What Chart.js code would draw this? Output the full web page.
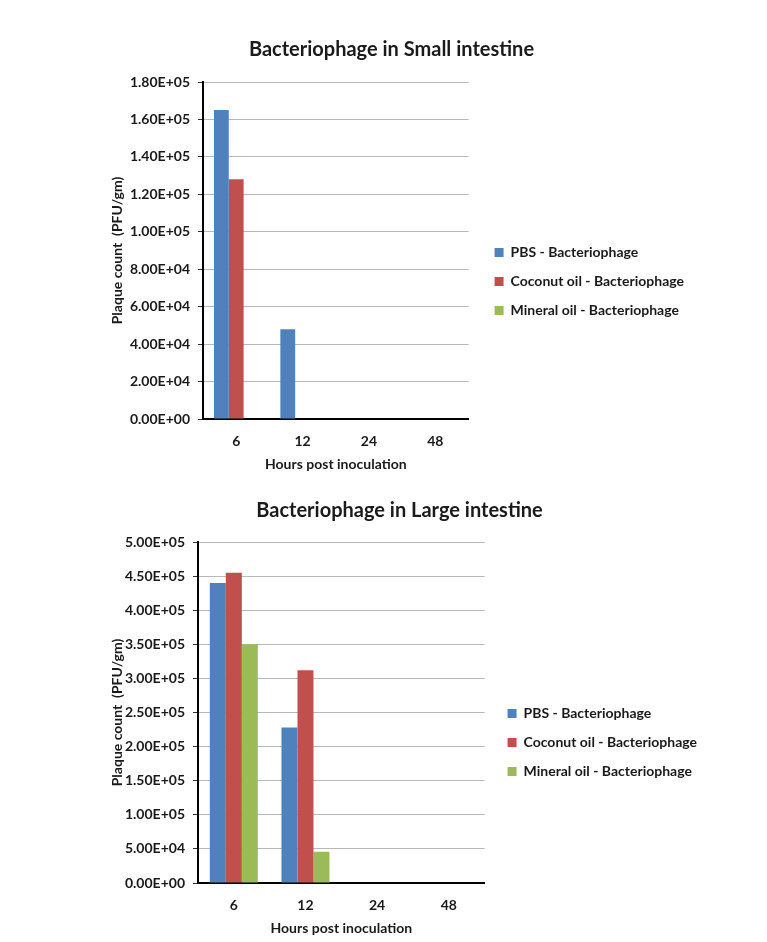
<!DOCTYPE html>
<html>
<head>
<meta charset="utf-8">
<script src="https://cdn.jsdelivr.net/npm/chart.js@4.4.1/dist/chart.umd.min.js"></script>
<style>
  html, body { margin: 0; padding: 0; background: #fff; }
  body { width: 767px; height: 942px; position: relative; overflow: hidden; }
  .box { position: absolute; left: 100px; width: 600px; }
  #smallBox { top: 28px; height: 451px; }
  #largeBox { top: 490px; height: 453px; }
</style>
</head>
<body>
<div class="box" id="smallBox"><canvas id="smallChart"></canvas></div>
<div class="box" id="largeBox"><canvas id="largeChart"></canvas></div>
<script>
// hours post inoculation
const hours = ['6', '12', '24', '48'];
const seriesNames = ['PBS - Bacteriophage', 'Coconut oil - Bacteriophage', 'Mineral oil - Bacteriophage'];

// small intestine, PFU/gm
const smallPbs = [165000, 48000, 0, 0];
const smallCoconut = [128000, 0, 0, 0];
const smallMineral = [0, 0, 0, 0];

// large intestine, PFU/gm
const largePbs = [440000, 228000, 0, 0];
const largeCoconut = [455000, 312000, 0, 0];
const largeMineral = [350000, 46000, 0, 0];

const colors = ['#4f81bd', '#c0504d', '#9bbb59'];
const FONT = 'Lato, "Open Sans", sans-serif';
const TXT = '#1a1a1a';

// 1.80E+05 style labels
function sci(v) {
  if (v === 0) return '0.00E+00';
  const e = Math.floor(Math.log10(v) + 1e-9);
  const m = v / Math.pow(10, e);
  return m.toFixed(2) + 'E+' + String(e).padStart(2, '0');
}

// nudge the legend into place
const legendShift = {
  id: 'legendShift',
  afterLayout(chart, args, opts) {
    const lg = chart.legend;
    if (!lg) return;
    lg.left += opts.dx; lg.right += opts.dx;
    lg.top += opts.dy; lg.bottom += opts.dy;
  }
};

function makeChart(id, title, data, cfg) {
  const ctx = document.getElementById(id).getContext('2d');
  return new Chart(ctx, {
    type: 'bar',
    data: {
      labels: hours,
      datasets: data.map((d, i) => ({
        label: seriesNames[i],
        data: d,
        backgroundColor: colors[i],
        borderWidth: 0,
        categoryPercentage: 0.67,
        barPercentage: 1.0
      }))
    },
    options: {
      responsive: true,
      maintainAspectRatio: false,
      animation: false,
      layout: { padding: { left: 0, right: cfg.padRight, top: 0, bottom: 0 } },
      plugins: {
        title: {
          display: true,
          text: title,
          color: TXT,
          font: { family: FONT, size: 20, weight: 'bold' },
          padding: cfg.titlePad
        },
        legend: {
          position: 'right',
          maxWidth: 300,
          labels: {
            color: TXT,
            font: { family: FONT, size: 14, weight: 'bold' },
            boxWidth: 9,
            boxHeight: 9,
            padding: 15
          }
        },
        legendShift: cfg.shift,
        tooltip: { enabled: false }
      },
      scales: {
        x: {
          grid: { display: false, drawTicks: false },
          border: { color: '#000', width: 2 },
          ticks: {
            color: TXT,
            padding: 14,
            font: { family: FONT, size: 14, weight: 'bold' }
          },
          title: {
            display: true,
            text: 'Hours post inoculation',
            color: TXT,
            font: { family: FONT, size: 14, weight: 'bold' },
            padding: { top: 0, bottom: 6 }
          },
          afterFit: (s) => { s.height = 60; }
        },
        y: {
          min: 0,
          max: cfg.yMax,
          grid: { color: '#b8b8b8', lineWidth: 1, tickLength: 5, tickColor: '#333' },
          border: { color: '#000', width: 2 },
          ticks: {
            stepSize: cfg.yStep,
            color: TXT,
            padding: 8,
            font: { family: FONT, size: 14, weight: 'bold' },
            callback: (v) => sci(v)
          },
          title: {
            display: true,
            text: 'Plaque count  (PFU/gm)',
            color: TXT,
            font: { family: FONT, size: 14, weight: 'bold' },
            padding: { top: 9, bottom: 0 }
          },
          afterFit: (s) => { s.width = cfg.yWidth; }
        }
      }
    },
    plugins: [legendShift]
  });
}

makeChart('smallChart', 'Bacteriophage in Small intestine',
  [smallPbs, smallCoconut, smallMineral],
  { yMax: 180000, yStep: 20000, yWidth: 103, padRight: 17,
    titlePad: { top: 10, bottom: 20 }, shift: { dx: 11, dy: 28 } });

makeChart('largeChart', 'Bacteriophage in Large intestine',
  [largePbs, largeCoconut, largeMineral],
  { yMax: 500000, yStep: 50000, yWidth: 98, padRight: 1,
    titlePad: { top: 9, bottom: 19 }, shift: { dx: 8, dy: 26 } });
</script>
</body>
</html>
